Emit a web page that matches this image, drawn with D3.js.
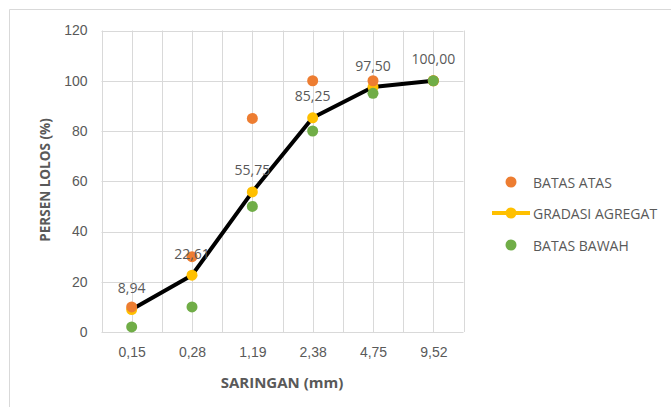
<!DOCTYPE html>
<html>
<head>
<meta charset="utf-8">
<script src="https://cdn.jsdelivr.net/npm/d3@7"></script>
<style>
  html, body { margin: 0; padding: 0; background: #fff; }
  svg { display: block; font-family: "Open Sans", "Liberation Sans", sans-serif; }
</style>
</head>
<body>
<svg id="chart" width="671" height="407"></svg>
<script>
// Sieve sizes (mm) and passing percentages
const sieves = ["0,15", "0,28", "1,19", "2,38", "4,75", "9,52"];
const batasAtas = [10, 30, 85, 100, 100, 100];
const gradasiAgregat = [8.94, 22.61, 55.75, 85.25, 97.50, 100.00];
const batasBawah = [2, 10, 50, 80, 95, 100];
const yTicks = [0, 20, 40, 60, 80, 100, 120];

const svg = d3.select("#chart");
const W = 671, H = 407;
const margin = { left: 101.5, right: 671 - 463.5, top: 30.5, bottom: 407 - 332 };

const textColor = "#595959";
const gridColor = "#d9d9d9";

// chart frame
svg.append("path")
  .attr("d", `M9.5,${H} V9.5 H${W}`)
  .attr("fill", "none")
  .attr("stroke", "#d9d9d9")
  .attr("stroke-width", 1);

const x = d3.scaleLinear().domain([0.5, sieves.length + 0.5]).range([margin.left, W - margin.right]);
const y = d3.scaleLinear().domain([0, 120]).range([H - margin.bottom, margin.top]);

// gridlines
const g = svg.append("g");
const vGrid = d3.range(0.5, sieves.length + 0.51, 0.5);
g.selectAll(".vg").data(vGrid).join("line")
  .attr("x1", d => Math.round(x(d)) + 0.5).attr("x2", d => Math.round(x(d)) + 0.5)
  .attr("y1", y(120)).attr("y2", y(0))
  .attr("stroke", gridColor).attr("stroke-width", 1);
g.selectAll(".hg").data(yTicks).join("line")
  .attr("x1", x(0.5)).attr("x2", x(sieves.length + 0.5))
  .attr("y1", d => Math.round(y(d)) + 0.5).attr("y2", d => Math.round(y(d)) + 0.5)
  .attr("stroke", gridColor).attr("stroke-width", 1);

// axes
const yAxis = d3.axisLeft(y).tickValues(yTicks).tickSize(0).tickPadding(14);
svg.append("g").attr("transform", `translate(${x(0.5)},0)`).call(yAxis)
  .call(a => a.select(".domain").remove())
  .selectAll("text").attr("fill", textColor).style("font-size", "14px");

const xAxis = d3.axisBottom(x).tickValues(d3.range(1, sieves.length + 1))
  .tickFormat(i => sieves[i - 1]).tickSize(0).tickPadding(15);
svg.append("g").attr("transform", `translate(0,${y(0)})`).call(xAxis)
  .call(a => a.select(".domain").remove())
  .selectAll("text").attr("fill", textColor).style("font-size", "14px");

// axis titles
svg.append("text").attr("x", 282).attr("y", 382).attr("text-anchor", "middle")
  .attr("dominant-baseline", "central").attr("fill", textColor)
  .style("font-size", "15px").style("font-weight", "bold").text("SARINGAN (mm)");
svg.append("text").attr("transform", "translate(45,180) rotate(-90)").attr("text-anchor", "middle")
  .attr("dominant-baseline", "central").attr("fill", textColor)
  .style("font-size", "13.5px").style("font-weight", "bold").text("PERSEN LOLOS (%)");

const idx = sieves.map((_, i) => i + 1);

// gradation curve
const line = d3.line().x(i => x(i)).y(i => y(gradasiAgregat[i - 1]));
svg.append("path").datum(idx).attr("d", line)
  .attr("fill", "none").attr("stroke", "#000").attr("stroke-width", 4)
  .attr("stroke-linejoin", "round").attr("stroke-linecap", "round");
svg.append("g").selectAll("circle").data(idx).join("circle")
  .attr("cx", i => x(i)).attr("cy", i => y(gradasiAgregat[i - 1])).attr("r", 5.5)
  .attr("fill", "#ffc000");

// upper limit
svg.append("g").selectAll("circle").data(idx).join("circle")
  .attr("cx", i => x(i)).attr("cy", i => y(batasAtas[i - 1])).attr("r", 5.5)
  .attr("fill", "#ed7d31");

// lower limit
svg.append("g").selectAll("circle").data(idx).join("circle")
  .attr("cx", i => x(i)).attr("cy", i => y(batasBawah[i - 1])).attr("r", 5.5)
  .attr("fill", "#70ad47");

// value labels
svg.append("g").selectAll("text").data(idx).join("text")
  .attr("x", i => x(i)).attr("y", i => y(gradasiAgregat[i - 1]) - 22)
  .attr("text-anchor", "middle").attr("dominant-baseline", "central")
  .attr("fill", textColor).style("font-size", "14px")
  .text(i => d3.format(".2f")(gradasiAgregat[i - 1]).replace(".", ","));

// legend
const legend = svg.append("g");
const items = [
  { name: "BATAS ATAS", color: "#ed7d31", line: false, yy: 182 },
  { name: "GRADASI AGREGAT", color: "#ffc000", line: true, yy: 213 },
  { name: "BATAS BAWAH", color: "#70ad47", line: false, yy: 245 }
];
items.forEach(it => {
  if (it.line) {
    legend.append("line").attr("x1", 492).attr("x2", 530).attr("y1", it.yy).attr("y2", it.yy)
      .attr("stroke", it.color).attr("stroke-width", 4);
  }
  legend.append("circle").attr("cx", 511).attr("cy", it.yy).attr("r", 5.5).attr("fill", it.color);
  legend.append("text").attr("x", 533).attr("y", it.yy).attr("dominant-baseline", "central")
    .attr("fill", textColor).style("font-size", "14px").text(it.name);
});
</script>
</body>
</html>
